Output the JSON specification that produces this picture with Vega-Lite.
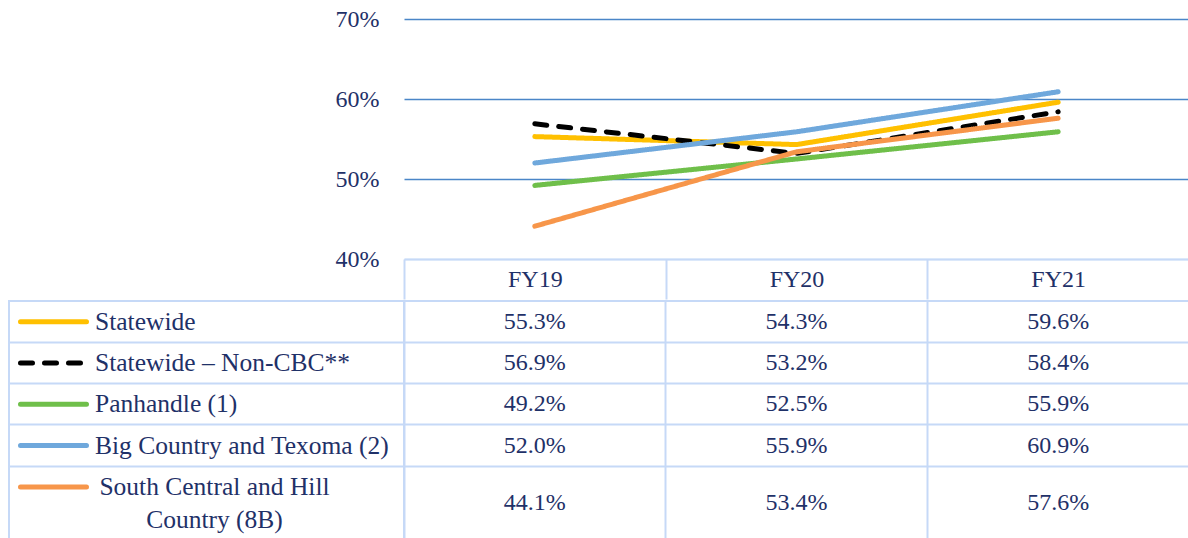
{
  "$schema": "https://vega.github.io/schema/vega-lite/v6.json",
  "background": "white",
  "padding": {"left": 8, "top": 7, "right": 0, "bottom": 0},
  "spacing": 0,
  "config": {"view": {"stroke": null}, "font": "Liberation Serif"},
  "datasets": {
    "rates": [
      {"series": "Statewide", "year": "FY19", "value": 0.553},
      {"series": "Statewide", "year": "FY20", "value": 0.543},
      {"series": "Statewide", "year": "FY21", "value": 0.596},
      {"series": "Statewide – Non-CBC**", "year": "FY19", "value": 0.569},
      {"series": "Statewide – Non-CBC**", "year": "FY20", "value": 0.532},
      {"series": "Statewide – Non-CBC**", "year": "FY21", "value": 0.584},
      {"series": "Panhandle (1)", "year": "FY19", "value": 0.492},
      {"series": "Panhandle (1)", "year": "FY20", "value": 0.525},
      {"series": "Panhandle (1)", "year": "FY21", "value": 0.559},
      {"series": "Big Country and Texoma (2)", "year": "FY19", "value": 0.520},
      {"series": "Big Country and Texoma (2)", "year": "FY20", "value": 0.559},
      {"series": "Big Country and Texoma (2)", "year": "FY21", "value": 0.609},
      {"series": "South Central and Hill Country (8B)", "year": "FY19", "value": 0.441},
      {"series": "South Central and Hill Country (8B)", "year": "FY20", "value": 0.534},
      {"series": "South Central and Hill Country (8B)", "year": "FY21", "value": 0.576}
    ],
    "rows": [
      {"series": "Statewide", "label": "Statewide"},
      {"series": "Statewide – Non-CBC**", "label": "Statewide – Non-CBC**"},
      {"series": "Panhandle (1)", "label": "Panhandle (1)"},
      {"series": "Big Country and Texoma (2)", "label": "Big Country and Texoma (2)"},
      {"series": "South Central and Hill Country (8B)", "label": "South Central and Hill\nCountry (8B)"}
    ]
  },
  "vconcat": [
    {
      "spacing": 0,
      "bounds": "flush",
      "hconcat": [
        {
          "width": 395,
          "height": 240,
          "data": {"values": []},
          "mark": "point"
        },
        {
          "width": 785,
          "height": 240,
          "data": {"name": "rates"},
          "mark": {"type": "line", "strokeWidth": 5, "strokeCap": "round", "strokeJoin": "round"},
          "encoding": {
            "x": {
              "field": "year", "type": "ordinal",
              "scale": {"type": "band", "paddingInner": 0, "paddingOuter": 0},
              "axis": {
                "title": null, "orient": "bottom", "grid": false, "labelAngle": 0,
                "domain": true, "domainColor": "#C6D9F7", "domainWidth": 2,
                "ticks": true, "tickBand": "extent", "tickSize": 40, "tickColor": "#C6D9F7", "tickWidth": 2,
                "labelPadding": -20, "labelBaseline": "middle",
                "labelFont": "Liberation Serif", "labelFontSize": 24, "labelColor": "#1F3168"
              }
            },
            "y": {
              "field": "value", "type": "quantitative",
              "scale": {"domain": [0.4, 0.7], "zero": false, "nice": false},
              "axis": {
                "title": null, "values": [0.4, 0.5, 0.6, 0.7], "format": ".0%",
                "domain": false, "ticks": false, "labelPadding": 25,
                "labelFont": "Liberation Serif", "labelFontSize": 24, "labelColor": "#1F3168",
                "grid": true,
                "gridColor": {"condition": {"test": "datum.value < 0.45", "value": "#C6D9F7"}, "value": "#4A86C8"},
                "gridWidth": 1.6
              }
            },
            "color": {
              "field": "series", "type": "nominal",
              "scale": {
                "domain": ["Statewide", "Statewide – Non-CBC**", "Panhandle (1)", "Big Country and Texoma (2)", "South Central and Hill Country (8B)"],
                "range": ["#FFC000", "#000000", "#6FBF4A", "#6FA8DC", "#F7964A"]
              },
              "legend": null
            },
            "strokeDash": {
              "field": "series", "type": "nominal",
              "scale": {
                "domain": ["Statewide", "Statewide – Non-CBC**", "Panhandle (1)", "Big Country and Texoma (2)", "South Central and Hill Country (8B)"],
                "range": [[1, 0], [12, 12], [1, 0], [1, 0], [1, 0]]
              },
              "legend": null
            }
          }
        }
      ]
    },
    {
      "spacing": 0,
      "bounds": "flush",
      "hconcat": [
        {
          "width": 395,
          "height": 238,
          "view": {"stroke": "#C6D9F7", "strokeWidth": 2},
          "data": {"name": "rows"},
          "encoding": {
            "y": {
              "field": "series", "type": "nominal",
              "scale": {
                "type": "band",
                "domain": ["Statewide", "Statewide – Non-CBC**", "Panhandle (1)", "Big Country and Texoma (2)", "South Central and Hill Country (8B)"],
                "paddingInner": 0, "paddingOuter": 0.38, "align": 0
              },
              "axis": {
                "title": null, "labels": false, "ticks": false, "domain": false,
                "grid": true, "bandPosition": 0,
                "values": ["Statewide – Non-CBC**", "Panhandle (1)", "Big Country and Texoma (2)", "South Central and Hill Country (8B)"],
                "gridColor": "#C6D9F7", "gridWidth": 2, "minExtent": 0, "maxExtent": 0
              }
            }
          },
          "layer": [
            {
              "mark": {"type": "point", "shape": "M-186,0H-120", "size": 4, "filled": false, "strokeWidth": 5, "strokeCap": "round", "opacity": 1},
              "encoding": {
                "color": {"field": "series", "type": "nominal", "legend": null},
                "strokeDash": {"field": "series", "type": "nominal", "legend": null}
              }
            },
            {
              "transform": [{"filter": "datum.series !== 'South Central and Hill Country (8B)'"}],
              "mark": {"type": "text", "align": "left", "baseline": "middle", "dx": -111.5, "font": "Liberation Serif", "fontSize": 25.5, "color": "#1F3168"},
              "encoding": {"text": {"field": "label", "type": "nominal"}}
            },
            {
              "transform": [{"filter": "datum.series === 'South Central and Hill Country (8B)'"}],
              "mark": {"type": "text", "align": "center", "baseline": "middle", "dx": 8, "lineBreak": "\n", "lineHeight": 33, "font": "Liberation Serif", "fontSize": 25.5, "color": "#1F3168"},
              "encoding": {"text": {"field": "label", "type": "nominal"}}
            }
          ]
        },
        {
          "width": 785,
          "height": 238,
          "view": {"stroke": "#C6D9F7", "strokeWidth": 2},
          "data": {"name": "rates"},
          "encoding": {
            "x": {
              "field": "year", "type": "ordinal",
              "scale": {"type": "band", "paddingInner": 0, "paddingOuter": 0},
              "axis": {
                "title": null, "labels": false, "ticks": false, "domain": false,
                "grid": true, "bandPosition": 0,
                "gridColor": "#C6D9F7", "gridWidth": 2, "minExtent": 0, "maxExtent": 0
              }
            },
            "y": {
              "field": "series", "type": "nominal",
              "scale": {
                "type": "band",
                "domain": ["Statewide", "Statewide – Non-CBC**", "Panhandle (1)", "Big Country and Texoma (2)", "South Central and Hill Country (8B)"],
                "paddingInner": 0, "paddingOuter": 0.38, "align": 0
              },
              "axis": {
                "title": null, "labels": false, "ticks": false, "domain": false,
                "grid": true, "bandPosition": 0,
                "values": ["Statewide – Non-CBC**", "Panhandle (1)", "Big Country and Texoma (2)", "South Central and Hill Country (8B)"],
                "gridColor": "#C6D9F7", "gridWidth": 2, "minExtent": 0, "maxExtent": 0
              }
            }
          },
          "layer": [
            {
              "transform": [{"filter": "datum.series !== 'South Central and Hill Country (8B)'"}],
              "mark": {"type": "text", "align": "center", "baseline": "middle", "font": "Liberation Serif", "fontSize": 24, "color": "#1F3168"},
              "encoding": {"text": {"field": "value", "type": "quantitative", "format": ".1%"}}
            },
            {
              "transform": [{"filter": "datum.series === 'South Central and Hill Country (8B)'"}],
              "mark": {"type": "text", "align": "center", "baseline": "middle", "font": "Liberation Serif", "fontSize": 24, "color": "#1F3168"},
              "encoding": {
                "y": {
                  "field": "series", "type": "nominal", "bandPosition": 0.88,
                  "scale": {
                    "type": "band",
                    "domain": ["Statewide", "Statewide – Non-CBC**", "Panhandle (1)", "Big Country and Texoma (2)", "South Central and Hill Country (8B)"],
                    "paddingInner": 0, "paddingOuter": 0.38, "align": 0
                  }
                },
                "text": {"field": "value", "type": "quantitative", "format": ".1%"}
              }
            }
          ]
        }
      ]
    }
  ]
}
